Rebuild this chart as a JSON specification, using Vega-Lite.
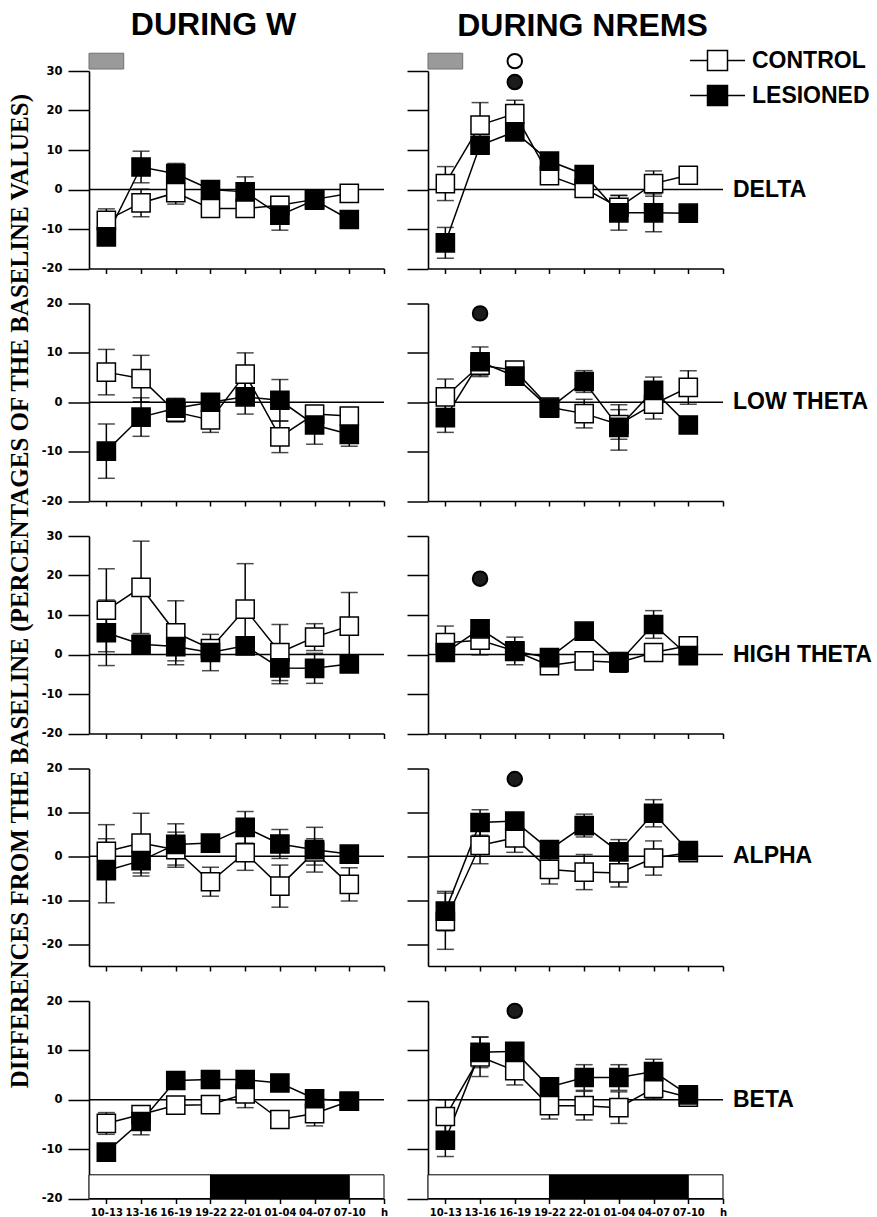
{
  "$schema": "https://vega.github.io/schema/vega-lite/v6.json",
  "background": "white",
  "padding": {"left": 8, "top": 8, "right": 5, "bottom": 0},
  "title": {"text": "DIFFERENCES FROM THE BASELINE (PERCENTAGES OF THE BASELINE VALUES)", "orient": "left", "anchor": "middle", "font": "Liberation Serif", "fontSize": 25, "fontWeight": "bold", "color": "black", "offset": 8, "dx": 22},
  "datasets": {
    "means": [
      {"band":"DELTA","state":"W","group":"CONTROL","t":0,"mean":-7.8,"sem":2.9},
      {"band":"DELTA","state":"W","group":"CONTROL","t":1,"mean":-3.4,"sem":3.5},
      {"band":"DELTA","state":"W","group":"CONTROL","t":2,"mean":-0.8,"sem":2.9},
      {"band":"DELTA","state":"W","group":"CONTROL","t":3,"mean":-4.8,"sem":1.5},
      {"band":"DELTA","state":"W","group":"CONTROL","t":4,"mean":-4.8,"sem":1.5},
      {"band":"DELTA","state":"W","group":"CONTROL","t":5,"mean":-4,"sem":1.5},
      {"band":"DELTA","state":"W","group":"CONTROL","t":6,"mean":-2.5,"sem":1.5},
      {"band":"DELTA","state":"W","group":"CONTROL","t":7,"mean":-1,"sem":1},
      {"band":"DELTA","state":"W","group":"LESIONED","t":0,"mean":-12,"sem":1.5},
      {"band":"DELTA","state":"W","group":"LESIONED","t":1,"mean":5.7,"sem":4},
      {"band":"DELTA","state":"W","group":"LESIONED","t":2,"mean":4,"sem":2.6},
      {"band":"DELTA","state":"W","group":"LESIONED","t":3,"mean":0,"sem":1},
      {"band":"DELTA","state":"W","group":"LESIONED","t":4,"mean":-0.6,"sem":3.8},
      {"band":"DELTA","state":"W","group":"LESIONED","t":5,"mean":-6.5,"sem":3.8},
      {"band":"DELTA","state":"W","group":"LESIONED","t":6,"mean":-2.7,"sem":1.5},
      {"band":"DELTA","state":"W","group":"LESIONED","t":7,"mean":-7.6,"sem":1},
      {"band":"DELTA","state":"NREMS","group":"CONTROL","t":0,"mean":1.5,"sem":4.3},
      {"band":"DELTA","state":"NREMS","group":"CONTROL","t":1,"mean":16.3,"sem":5.7},
      {"band":"DELTA","state":"NREMS","group":"CONTROL","t":2,"mean":19.2,"sem":3.4},
      {"band":"DELTA","state":"NREMS","group":"CONTROL","t":3,"mean":3.5,"sem":1.2},
      {"band":"DELTA","state":"NREMS","group":"CONTROL","t":4,"mean":0.3,"sem":2},
      {"band":"DELTA","state":"NREMS","group":"CONTROL","t":5,"mean":-4.5,"sem":3},
      {"band":"DELTA","state":"NREMS","group":"CONTROL","t":6,"mean":1.5,"sem":3.2},
      {"band":"DELTA","state":"NREMS","group":"CONTROL","t":7,"mean":3.6,"sem":1.5},
      {"band":"DELTA","state":"NREMS","group":"LESIONED","t":0,"mean":-13.5,"sem":3.9},
      {"band":"DELTA","state":"NREMS","group":"LESIONED","t":1,"mean":11.2,"sem":2},
      {"band":"DELTA","state":"NREMS","group":"LESIONED","t":2,"mean":14.6,"sem":2},
      {"band":"DELTA","state":"NREMS","group":"LESIONED","t":3,"mean":7.2,"sem":1.5},
      {"band":"DELTA","state":"NREMS","group":"LESIONED","t":4,"mean":3.8,"sem":1},
      {"band":"DELTA","state":"NREMS","group":"LESIONED","t":5,"mean":-5.9,"sem":4.4},
      {"band":"DELTA","state":"NREMS","group":"LESIONED","t":6,"mean":-5.9,"sem":4.8},
      {"band":"DELTA","state":"NREMS","group":"LESIONED","t":7,"mean":-6,"sem":1},
      {"band":"LOW THETA","state":"W","group":"CONTROL","t":0,"mean":6.1,"sem":4.6},
      {"band":"LOW THETA","state":"W","group":"CONTROL","t":1,"mean":4.8,"sem":4.7},
      {"band":"LOW THETA","state":"W","group":"CONTROL","t":2,"mean":-2,"sem":2},
      {"band":"LOW THETA","state":"W","group":"CONTROL","t":3,"mean":-3.6,"sem":2.5},
      {"band":"LOW THETA","state":"W","group":"CONTROL","t":4,"mean":5.7,"sem":4.3},
      {"band":"LOW THETA","state":"W","group":"CONTROL","t":5,"mean":-7,"sem":3.2},
      {"band":"LOW THETA","state":"W","group":"CONTROL","t":6,"mean":-2.4,"sem":1},
      {"band":"LOW THETA","state":"W","group":"CONTROL","t":7,"mean":-2.8,"sem":1},
      {"band":"LOW THETA","state":"W","group":"LESIONED","t":0,"mean":-9.9,"sem":5.5},
      {"band":"LOW THETA","state":"W","group":"LESIONED","t":1,"mean":-3,"sem":3.9},
      {"band":"LOW THETA","state":"W","group":"LESIONED","t":2,"mean":-1.2,"sem":2},
      {"band":"LOW THETA","state":"W","group":"LESIONED","t":3,"mean":0,"sem":1},
      {"band":"LOW THETA","state":"W","group":"LESIONED","t":4,"mean":1.1,"sem":3.5},
      {"band":"LOW THETA","state":"W","group":"LESIONED","t":5,"mean":0.4,"sem":4.2},
      {"band":"LOW THETA","state":"W","group":"LESIONED","t":6,"mean":-4.6,"sem":3.9},
      {"band":"LOW THETA","state":"W","group":"LESIONED","t":7,"mean":-6.5,"sem":2.4},
      {"band":"LOW THETA","state":"NREMS","group":"CONTROL","t":0,"mean":1.1,"sem":3.6},
      {"band":"LOW THETA","state":"NREMS","group":"CONTROL","t":1,"mean":7.5,"sem":2},
      {"band":"LOW THETA","state":"NREMS","group":"CONTROL","t":2,"mean":6.5,"sem":1},
      {"band":"LOW THETA","state":"NREMS","group":"CONTROL","t":3,"mean":-1,"sem":1},
      {"band":"LOW THETA","state":"NREMS","group":"CONTROL","t":4,"mean":-2.3,"sem":2.9},
      {"band":"LOW THETA","state":"NREMS","group":"CONTROL","t":5,"mean":-4.5,"sem":3},
      {"band":"LOW THETA","state":"NREMS","group":"CONTROL","t":6,"mean":-0.4,"sem":3},
      {"band":"LOW THETA","state":"NREMS","group":"CONTROL","t":7,"mean":3,"sem":3.4},
      {"band":"LOW THETA","state":"NREMS","group":"LESIONED","t":0,"mean":-3.1,"sem":3},
      {"band":"LOW THETA","state":"NREMS","group":"LESIONED","t":1,"mean":8.2,"sem":3},
      {"band":"LOW THETA","state":"NREMS","group":"LESIONED","t":2,"mean":5.3,"sem":1},
      {"band":"LOW THETA","state":"NREMS","group":"LESIONED","t":3,"mean":-1.2,"sem":1},
      {"band":"LOW THETA","state":"NREMS","group":"LESIONED","t":4,"mean":4.2,"sem":2.2},
      {"band":"LOW THETA","state":"NREMS","group":"LESIONED","t":5,"mean":-5.1,"sem":4.6},
      {"band":"LOW THETA","state":"NREMS","group":"LESIONED","t":6,"mean":2.4,"sem":2.7},
      {"band":"LOW THETA","state":"NREMS","group":"LESIONED","t":7,"mean":-4.6,"sem":1},
      {"band":"HIGH THETA","state":"W","group":"CONTROL","t":0,"mean":11.2,"sem":10.5},
      {"band":"HIGH THETA","state":"W","group":"CONTROL","t":1,"mean":17,"sem":11.7},
      {"band":"HIGH THETA","state":"W","group":"CONTROL","t":2,"mean":5.5,"sem":8.1},
      {"band":"HIGH THETA","state":"W","group":"CONTROL","t":3,"mean":1.5,"sem":2},
      {"band":"HIGH THETA","state":"W","group":"CONTROL","t":4,"mean":11.5,"sem":11.5},
      {"band":"HIGH THETA","state":"W","group":"CONTROL","t":5,"mean":0.5,"sem":7.1},
      {"band":"HIGH THETA","state":"W","group":"CONTROL","t":6,"mean":4.4,"sem":3.4},
      {"band":"HIGH THETA","state":"W","group":"CONTROL","t":7,"mean":7.2,"sem":8.5},
      {"band":"HIGH THETA","state":"W","group":"LESIONED","t":0,"mean":5.5,"sem":8.3},
      {"band":"HIGH THETA","state":"W","group":"LESIONED","t":1,"mean":2.6,"sem":2},
      {"band":"HIGH THETA","state":"W","group":"LESIONED","t":2,"mean":2,"sem":3.6},
      {"band":"HIGH THETA","state":"W","group":"LESIONED","t":3,"mean":0.5,"sem":4.6},
      {"band":"HIGH THETA","state":"W","group":"LESIONED","t":4,"mean":2.2,"sem":1.5},
      {"band":"HIGH THETA","state":"W","group":"LESIONED","t":5,"mean":-3.4,"sem":4},
      {"band":"HIGH THETA","state":"W","group":"LESIONED","t":6,"mean":-3.5,"sem":3.8},
      {"band":"HIGH THETA","state":"W","group":"LESIONED","t":7,"mean":-2.4,"sem":1},
      {"band":"HIGH THETA","state":"NREMS","group":"CONTROL","t":0,"mean":3,"sem":4.2},
      {"band":"HIGH THETA","state":"NREMS","group":"CONTROL","t":1,"mean":3.6,"sem":3.7},
      {"band":"HIGH THETA","state":"NREMS","group":"CONTROL","t":2,"mean":0.9,"sem":3.5},
      {"band":"HIGH THETA","state":"NREMS","group":"CONTROL","t":3,"mean":-2.8,"sem":1},
      {"band":"HIGH THETA","state":"NREMS","group":"CONTROL","t":4,"mean":-1.6,"sem":1},
      {"band":"HIGH THETA","state":"NREMS","group":"CONTROL","t":5,"mean":-2,"sem":2.5},
      {"band":"HIGH THETA","state":"NREMS","group":"CONTROL","t":6,"mean":0.5,"sem":1.5},
      {"band":"HIGH THETA","state":"NREMS","group":"CONTROL","t":7,"mean":2.2,"sem":1},
      {"band":"HIGH THETA","state":"NREMS","group":"LESIONED","t":0,"mean":0.5,"sem":1},
      {"band":"HIGH THETA","state":"NREMS","group":"LESIONED","t":1,"mean":6.5,"sem":1.5},
      {"band":"HIGH THETA","state":"NREMS","group":"LESIONED","t":2,"mean":0.8,"sem":2},
      {"band":"HIGH THETA","state":"NREMS","group":"LESIONED","t":3,"mean":-0.8,"sem":1},
      {"band":"HIGH THETA","state":"NREMS","group":"LESIONED","t":4,"mean":5.9,"sem":1},
      {"band":"HIGH THETA","state":"NREMS","group":"LESIONED","t":5,"mean":-2,"sem":2.5},
      {"band":"HIGH THETA","state":"NREMS","group":"LESIONED","t":6,"mean":7.6,"sem":3.5},
      {"band":"HIGH THETA","state":"NREMS","group":"LESIONED","t":7,"mean":-0.3,"sem":1},
      {"band":"ALPHA","state":"W","group":"CONTROL","t":0,"mean":1.1,"sem":6.1},
      {"band":"ALPHA","state":"W","group":"CONTROL","t":1,"mean":3,"sem":6.8},
      {"band":"ALPHA","state":"W","group":"CONTROL","t":2,"mean":1.5,"sem":4},
      {"band":"ALPHA","state":"W","group":"CONTROL","t":3,"mean":-5.8,"sem":3.3},
      {"band":"ALPHA","state":"W","group":"CONTROL","t":4,"mean":0.8,"sem":4},
      {"band":"ALPHA","state":"W","group":"CONTROL","t":5,"mean":-6.8,"sem":4.8},
      {"band":"ALPHA","state":"W","group":"CONTROL","t":6,"mean":1,"sem":3},
      {"band":"ALPHA","state":"W","group":"CONTROL","t":7,"mean":-6.4,"sem":3.8},
      {"band":"ALPHA","state":"W","group":"LESIONED","t":0,"mean":-3.3,"sem":7.3},
      {"band":"ALPHA","state":"W","group":"LESIONED","t":1,"mean":-1,"sem":3.5},
      {"band":"ALPHA","state":"W","group":"LESIONED","t":2,"mean":2.7,"sem":4.7},
      {"band":"ALPHA","state":"W","group":"LESIONED","t":3,"mean":3,"sem":1},
      {"band":"ALPHA","state":"W","group":"LESIONED","t":4,"mean":6.6,"sem":3.6},
      {"band":"ALPHA","state":"W","group":"LESIONED","t":5,"mean":2.8,"sem":3.3},
      {"band":"ALPHA","state":"W","group":"LESIONED","t":6,"mean":1.5,"sem":5.1},
      {"band":"ALPHA","state":"W","group":"LESIONED","t":7,"mean":0.5,"sem":1},
      {"band":"ALPHA","state":"NREMS","group":"CONTROL","t":0,"mean":-14.8,"sem":6.4},
      {"band":"ALPHA","state":"NREMS","group":"CONTROL","t":1,"mean":2.5,"sem":4.2},
      {"band":"ALPHA","state":"NREMS","group":"CONTROL","t":2,"mean":4.2,"sem":3.3},
      {"band":"ALPHA","state":"NREMS","group":"CONTROL","t":3,"mean":-3,"sem":3.3},
      {"band":"ALPHA","state":"NREMS","group":"CONTROL","t":4,"mean":-3.6,"sem":4},
      {"band":"ALPHA","state":"NREMS","group":"CONTROL","t":5,"mean":-3.8,"sem":3.2},
      {"band":"ALPHA","state":"NREMS","group":"CONTROL","t":6,"mean":-0.4,"sem":3.9},
      {"band":"ALPHA","state":"NREMS","group":"CONTROL","t":7,"mean":0.8,"sem":1},
      {"band":"ALPHA","state":"NREMS","group":"LESIONED","t":0,"mean":-12.5,"sem":4.5},
      {"band":"ALPHA","state":"NREMS","group":"LESIONED","t":1,"mean":7.7,"sem":2.9},
      {"band":"ALPHA","state":"NREMS","group":"LESIONED","t":2,"mean":8,"sem":1.5},
      {"band":"ALPHA","state":"NREMS","group":"LESIONED","t":3,"mean":1.5,"sem":1},
      {"band":"ALPHA","state":"NREMS","group":"LESIONED","t":4,"mean":7,"sem":2.6},
      {"band":"ALPHA","state":"NREMS","group":"LESIONED","t":5,"mean":1,"sem":2.8},
      {"band":"ALPHA","state":"NREMS","group":"LESIONED","t":6,"mean":9.8,"sem":3.1},
      {"band":"ALPHA","state":"NREMS","group":"LESIONED","t":7,"mean":1.3,"sem":1},
      {"band":"BETA","state":"W","group":"CONTROL","t":0,"mean":-4.8,"sem":2.2},
      {"band":"BETA","state":"W","group":"CONTROL","t":1,"mean":-3,"sem":1.5},
      {"band":"BETA","state":"W","group":"CONTROL","t":2,"mean":-1.1,"sem":1},
      {"band":"BETA","state":"W","group":"CONTROL","t":3,"mean":-1,"sem":1},
      {"band":"BETA","state":"W","group":"CONTROL","t":4,"mean":1.2,"sem":2.8},
      {"band":"BETA","state":"W","group":"CONTROL","t":5,"mean":-4,"sem":1},
      {"band":"BETA","state":"W","group":"CONTROL","t":6,"mean":-2.8,"sem":2.5},
      {"band":"BETA","state":"W","group":"CONTROL","t":7,"mean":-0.3,"sem":1},
      {"band":"BETA","state":"W","group":"LESIONED","t":0,"mean":-10.6,"sem":1},
      {"band":"BETA","state":"W","group":"LESIONED","t":1,"mean":-4.4,"sem":2.7},
      {"band":"BETA","state":"W","group":"LESIONED","t":2,"mean":3.9,"sem":1},
      {"band":"BETA","state":"W","group":"LESIONED","t":3,"mean":4.1,"sem":1},
      {"band":"BETA","state":"W","group":"LESIONED","t":4,"mean":4.1,"sem":1},
      {"band":"BETA","state":"W","group":"LESIONED","t":5,"mean":3.4,"sem":1},
      {"band":"BETA","state":"W","group":"LESIONED","t":6,"mean":0.2,"sem":1},
      {"band":"BETA","state":"W","group":"LESIONED","t":7,"mean":-0.3,"sem":1},
      {"band":"BETA","state":"NREMS","group":"CONTROL","t":0,"mean":-3.4,"sem":3.4},
      {"band":"BETA","state":"NREMS","group":"CONTROL","t":1,"mean":8.7,"sem":4},
      {"band":"BETA","state":"NREMS","group":"CONTROL","t":2,"mean":5.9,"sem":2.9},
      {"band":"BETA","state":"NREMS","group":"CONTROL","t":3,"mean":-1.2,"sem":2.7},
      {"band":"BETA","state":"NREMS","group":"CONTROL","t":4,"mean":-1.2,"sem":2.9},
      {"band":"BETA","state":"NREMS","group":"CONTROL","t":5,"mean":-1.6,"sem":3.2},
      {"band":"BETA","state":"NREMS","group":"CONTROL","t":6,"mean":2.3,"sem":2.1},
      {"band":"BETA","state":"NREMS","group":"CONTROL","t":7,"mean":0.5,"sem":1},
      {"band":"BETA","state":"NREMS","group":"LESIONED","t":0,"mean":-8.2,"sem":3.3},
      {"band":"BETA","state":"NREMS","group":"LESIONED","t":1,"mean":9.6,"sem":3.1},
      {"band":"BETA","state":"NREMS","group":"LESIONED","t":2,"mean":9.8,"sem":1.5},
      {"band":"BETA","state":"NREMS","group":"LESIONED","t":3,"mean":2.6,"sem":1},
      {"band":"BETA","state":"NREMS","group":"LESIONED","t":4,"mean":4.5,"sem":2.6},
      {"band":"BETA","state":"NREMS","group":"LESIONED","t":5,"mean":4.5,"sem":2.6},
      {"band":"BETA","state":"NREMS","group":"LESIONED","t":6,"mean":5.7,"sem":2.5},
      {"band":"BETA","state":"NREMS","group":"LESIONED","t":7,"mean":1,"sem":1}
    ],
    "sig": [
      {"band":"DELTA","t":2,"group":"CONTROL","y":32.5},
      {"band":"DELTA","t":2,"group":"LESIONED","y":27.2},
      {"band":"LOW THETA","t":1,"group":"LESIONED","y":18},
      {"band":"HIGH THETA","t":1,"group":"LESIONED","y":19.2},
      {"band":"ALPHA","t":2,"group":"LESIONED","y":17.6},
      {"band":"BETA","t":2,"group":"LESIONED","y":18}
    ],
    "phases": [
      {"phase":"light","from":-0.5,"to":3},
      {"phase":"dark","from":3,"to":7},
      {"phase":"light","from":7,"to":8}
    ]
  },
  "columns": 2,
  "spacing": {"row": 34.5, "column": 44},
  "bounds": "flush",
  "resolve": {"scale": {"fill": "independent"}, "legend": {"fill": "independent"}},
  "concat": [
    {
      "width": 295, "height": 197.5,
      "title": {"text": "DURING W", "font": "Liberation Sans", "fontSize": 32, "fontWeight": "bold", "color": "black", "frame": "group", "anchor": "middle", "dx": -23, "offset": 11},
      "layer": [
        {"data": {"values": [{}]}, "mark": {"type": "rule", "color": "black", "strokeWidth": 1.5},
         "encoding": {
           "x": {"datum": -0.5, "type": "quantitative", "scale": {"domain": [-0.5, 8], "nice": false, "zero": false}, "axis": {"values": [0,1,2,3,4,5,6,7,8], "tickCount": 20, "labels": false, "title": null, "labelOverlap": false}},
           "x2": {"datum": 8},
           "y": {"datum": 0, "type": "quantitative", "scale": {"domain": [-20, 30], "nice": false, "zero": false}, "axis": {"values": [-20,-10,0,10,20,30], "tickCount": 20, "title": null, "labelOverlap": false, "labelExpr": "'' + datum.value"}}}},
        {"data": {"values": [{}]}, "mark": {"type": "rect", "fill": "#9a9a9a", "stroke": "#707070", "strokeWidth": 1},
         "encoding": {"x": {"datum": -0.5, "type": "quantitative"}, "x2": {"datum": 0.5}, "y": {"datum": 30.5, "type": "quantitative"}, "y2": {"datum": 34.5}}},
        {"data": {"name": "means"}, "transform": [{"filter": "datum.band === 'DELTA' && datum.state === 'W'"}],
         "encoding": {"x": {"field": "t", "type": "quantitative"}, "y": {"field": "mean", "type": "quantitative"}},
         "layer": [
           {"mark": {"type": "errorbar", "color": "black", "ticks": {"size": 17, "thickness": 1.5, "color": "black"}, "rule": {"strokeWidth": 1.5, "color": "black"}}, "encoding": {"yError": {"field": "sem"}}},
           {"mark": {"type": "line", "color": "black", "strokeWidth": 1.5}, "encoding": {"detail": {"field": "group"}}},
           {"mark": {"type": "point", "shape": "square", "filled": true, "size": 330, "stroke": "black", "strokeWidth": 1.5, "opacity": 1}, "encoding": {"fill": {"field": "group", "type": "nominal", "scale": {"domain": ["CONTROL", "LESIONED"], "range": ["white", "black"]}, "legend": null}}}
         ]}
      ]
    },
    {
      "width": 295, "height": 197.5,
      "title": {"text": "DURING NREMS", "font": "Liberation Sans", "fontSize": 32, "fontWeight": "bold", "color": "black", "frame": "group", "anchor": "middle", "dx": 7, "offset": 6},
      "layer": [
        {"data": {"values": [{}]}, "mark": {"type": "rule", "color": "black", "strokeWidth": 1.5},
         "encoding": {
           "x": {"datum": -0.5, "type": "quantitative", "scale": {"domain": [-0.5, 8], "nice": false, "zero": false}, "axis": {"values": [0,1,2,3,4,5,6,7,8], "tickCount": 20, "labels": false, "title": null, "labelOverlap": false}},
           "x2": {"datum": 8},
           "y": {"datum": 0, "type": "quantitative", "scale": {"domain": [-20, 30], "nice": false, "zero": false}, "axis": {"values": [-20,-10,0,10,20,30], "tickCount": 20, "labels": false, "title": null, "labelOverlap": false}}}},
        {"data": {"values": [{}]}, "mark": {"type": "rect", "fill": "#9a9a9a", "stroke": "#707070", "strokeWidth": 1},
         "encoding": {"x": {"datum": -0.5, "type": "quantitative"}, "x2": {"datum": 0.5}, "y": {"datum": 30.5, "type": "quantitative"}, "y2": {"datum": 34.5}}},
        {"data": {"values": [{}]}, "mark": {"type": "text", "text": "DELTA", "align": "left", "baseline": "middle", "dx": 10, "font": "Liberation Sans", "fontWeight": "bold", "fontSize": 23, "color": "black"},
         "encoding": {"x": {"datum": 8, "type": "quantitative"}, "y": {"datum": 0, "type": "quantitative"}}},
        {"data": {"name": "sig"}, "transform": [{"filter": "datum.band === 'DELTA'"}],
         "mark": {"type": "point", "shape": "circle", "filled": true, "size": 210, "stroke": "black", "strokeWidth": 2, "opacity": 1},
         "encoding": {"x": {"field": "t", "type": "quantitative"}, "y": {"field": "y", "type": "quantitative"}, "fill": {"condition": {"test": "datum.group === 'CONTROL'", "value": "white"}, "value": "#1c1c1c"}}},
        {"data": {"name": "means"}, "transform": [{"filter": "datum.band === 'DELTA' && datum.state === 'NREMS'"}],
         "encoding": {"x": {"field": "t", "type": "quantitative"}, "y": {"field": "mean", "type": "quantitative"}},
         "layer": [
           {"mark": {"type": "errorbar", "color": "black", "ticks": {"size": 17, "thickness": 1.5, "color": "black"}, "rule": {"strokeWidth": 1.5, "color": "black"}}, "encoding": {"yError": {"field": "sem"}}},
           {"mark": {"type": "line", "color": "black", "strokeWidth": 1.5}, "encoding": {"detail": {"field": "group"}}},
           {"mark": {"type": "point", "shape": "square", "filled": true, "size": 330, "stroke": "black", "strokeWidth": 1.5, "opacity": 1}, "encoding": {"fill": {"field": "group", "type": "nominal", "scale": {"domain": ["CONTROL", "LESIONED"], "range": ["white", "black"]},
             "legend": {"title": null, "orient": "none", "legendX": 278, "legendY": -22, "symbolType": "M-2.75,0H-1M1,0H2.75M-1,-1H1V1H-1Z", "symbolSize": 400, "symbolStrokeColor": "black", "symbolStrokeWidth": 1.5, "labelFont": "Liberation Sans", "labelFontWeight": "bold", "labelFontSize": 23, "labelColor": "black", "labelOffset": 23, "rowPadding": 8, "padding": 0, "labelLimit": 300}}}}
         ]}
      ]
    },
    {
      "width": 295, "height": 197.5,
      "layer": [
        {"data": {"values": [{}]}, "mark": {"type": "rule", "color": "black", "strokeWidth": 1.5},
         "encoding": {
           "x": {"datum": -0.5, "type": "quantitative", "scale": {"domain": [-0.5, 8], "nice": false, "zero": false}, "axis": {"values": [0,1,2,3,4,5,6,7,8], "tickCount": 20, "labels": false, "title": null, "labelOverlap": false}},
           "x2": {"datum": 8},
           "y": {"datum": 0, "type": "quantitative", "scale": {"domain": [-20, 20], "nice": false, "zero": false}, "axis": {"values": [-20,-10,0,10,20], "tickCount": 20, "title": null, "labelOverlap": false, "labelExpr": "'' + datum.value"}}}},
        {"data": {"name": "means"}, "transform": [{"filter": "datum.band === 'LOW THETA' && datum.state === 'W'"}],
         "encoding": {"x": {"field": "t", "type": "quantitative"}, "y": {"field": "mean", "type": "quantitative"}},
         "layer": [
           {"mark": {"type": "errorbar", "color": "black", "ticks": {"size": 17, "thickness": 1.5, "color": "black"}, "rule": {"strokeWidth": 1.5, "color": "black"}}, "encoding": {"yError": {"field": "sem"}}},
           {"mark": {"type": "line", "color": "black", "strokeWidth": 1.5}, "encoding": {"detail": {"field": "group"}}},
           {"mark": {"type": "point", "shape": "square", "filled": true, "size": 330, "stroke": "black", "strokeWidth": 1.5, "opacity": 1}, "encoding": {"fill": {"field": "group", "type": "nominal", "scale": {"domain": ["CONTROL", "LESIONED"], "range": ["white", "black"]}, "legend": null}}}
         ]}
      ]
    },
    {
      "width": 295, "height": 197.5,
      "layer": [
        {"data": {"values": [{}]}, "mark": {"type": "rule", "color": "black", "strokeWidth": 1.5},
         "encoding": {
           "x": {"datum": -0.5, "type": "quantitative", "scale": {"domain": [-0.5, 8], "nice": false, "zero": false}, "axis": {"values": [0,1,2,3,4,5,6,7,8], "tickCount": 20, "labels": false, "title": null, "labelOverlap": false}},
           "x2": {"datum": 8},
           "y": {"datum": 0, "type": "quantitative", "scale": {"domain": [-20, 20], "nice": false, "zero": false}, "axis": {"values": [-20,-10,0,10,20], "tickCount": 20, "labels": false, "title": null, "labelOverlap": false}}}},
        {"data": {"values": [{}]}, "mark": {"type": "text", "text": "LOW THETA", "align": "left", "baseline": "middle", "dx": 10, "font": "Liberation Sans", "fontWeight": "bold", "fontSize": 23, "color": "black"},
         "encoding": {"x": {"datum": 8, "type": "quantitative"}, "y": {"datum": 0, "type": "quantitative"}}},
        {"data": {"name": "sig"}, "transform": [{"filter": "datum.band === 'LOW THETA'"}],
         "mark": {"type": "point", "shape": "circle", "filled": true, "size": 210, "stroke": "black", "strokeWidth": 2, "opacity": 1},
         "encoding": {"x": {"field": "t", "type": "quantitative"}, "y": {"field": "y", "type": "quantitative"}, "fill": {"condition": {"test": "datum.group === 'CONTROL'", "value": "white"}, "value": "#1c1c1c"}}},
        {"data": {"name": "means"}, "transform": [{"filter": "datum.band === 'LOW THETA' && datum.state === 'NREMS'"}],
         "encoding": {"x": {"field": "t", "type": "quantitative"}, "y": {"field": "mean", "type": "quantitative"}},
         "layer": [
           {"mark": {"type": "errorbar", "color": "black", "ticks": {"size": 17, "thickness": 1.5, "color": "black"}, "rule": {"strokeWidth": 1.5, "color": "black"}}, "encoding": {"yError": {"field": "sem"}}},
           {"mark": {"type": "line", "color": "black", "strokeWidth": 1.5}, "encoding": {"detail": {"field": "group"}}},
           {"mark": {"type": "point", "shape": "square", "filled": true, "size": 330, "stroke": "black", "strokeWidth": 1.5, "opacity": 1}, "encoding": {"fill": {"field": "group", "type": "nominal", "scale": {"domain": ["CONTROL", "LESIONED"], "range": ["white", "black"]}, "legend": null}}}
         ]}
      ]
    },
    {
      "width": 295, "height": 197.5,
      "layer": [
        {"data": {"values": [{}]}, "mark": {"type": "rule", "color": "black", "strokeWidth": 1.5},
         "encoding": {
           "x": {"datum": -0.5, "type": "quantitative", "scale": {"domain": [-0.5, 8], "nice": false, "zero": false}, "axis": {"values": [0,1,2,3,4,5,6,7,8], "tickCount": 20, "labels": false, "title": null, "labelOverlap": false}},
           "x2": {"datum": 8},
           "y": {"datum": 0, "type": "quantitative", "scale": {"domain": [-20, 30], "nice": false, "zero": false}, "axis": {"values": [-20,-10,0,10,20,30], "tickCount": 20, "title": null, "labelOverlap": false, "labelExpr": "'' + datum.value"}}}},
        {"data": {"name": "means"}, "transform": [{"filter": "datum.band === 'HIGH THETA' && datum.state === 'W'"}],
         "encoding": {"x": {"field": "t", "type": "quantitative"}, "y": {"field": "mean", "type": "quantitative"}},
         "layer": [
           {"mark": {"type": "errorbar", "color": "black", "ticks": {"size": 17, "thickness": 1.5, "color": "black"}, "rule": {"strokeWidth": 1.5, "color": "black"}}, "encoding": {"yError": {"field": "sem"}}},
           {"mark": {"type": "line", "color": "black", "strokeWidth": 1.5}, "encoding": {"detail": {"field": "group"}}},
           {"mark": {"type": "point", "shape": "square", "filled": true, "size": 330, "stroke": "black", "strokeWidth": 1.5, "opacity": 1}, "encoding": {"fill": {"field": "group", "type": "nominal", "scale": {"domain": ["CONTROL", "LESIONED"], "range": ["white", "black"]}, "legend": null}}}
         ]}
      ]
    },
    {
      "width": 295, "height": 197.5,
      "layer": [
        {"data": {"values": [{}]}, "mark": {"type": "rule", "color": "black", "strokeWidth": 1.5},
         "encoding": {
           "x": {"datum": -0.5, "type": "quantitative", "scale": {"domain": [-0.5, 8], "nice": false, "zero": false}, "axis": {"values": [0,1,2,3,4,5,6,7,8], "tickCount": 20, "labels": false, "title": null, "labelOverlap": false}},
           "x2": {"datum": 8},
           "y": {"datum": 0, "type": "quantitative", "scale": {"domain": [-20, 30], "nice": false, "zero": false}, "axis": {"values": [-20,-10,0,10,20,30], "tickCount": 20, "labels": false, "title": null, "labelOverlap": false}}}},
        {"data": {"values": [{}]}, "mark": {"type": "text", "text": "HIGH THETA", "align": "left", "baseline": "middle", "dx": 10, "font": "Liberation Sans", "fontWeight": "bold", "fontSize": 23, "color": "black"},
         "encoding": {"x": {"datum": 8, "type": "quantitative"}, "y": {"datum": 0, "type": "quantitative"}}},
        {"data": {"name": "sig"}, "transform": [{"filter": "datum.band === 'HIGH THETA'"}],
         "mark": {"type": "point", "shape": "circle", "filled": true, "size": 210, "stroke": "black", "strokeWidth": 2, "opacity": 1},
         "encoding": {"x": {"field": "t", "type": "quantitative"}, "y": {"field": "y", "type": "quantitative"}, "fill": {"condition": {"test": "datum.group === 'CONTROL'", "value": "white"}, "value": "#1c1c1c"}}},
        {"data": {"name": "means"}, "transform": [{"filter": "datum.band === 'HIGH THETA' && datum.state === 'NREMS'"}],
         "encoding": {"x": {"field": "t", "type": "quantitative"}, "y": {"field": "mean", "type": "quantitative"}},
         "layer": [
           {"mark": {"type": "errorbar", "color": "black", "ticks": {"size": 17, "thickness": 1.5, "color": "black"}, "rule": {"strokeWidth": 1.5, "color": "black"}}, "encoding": {"yError": {"field": "sem"}}},
           {"mark": {"type": "line", "color": "black", "strokeWidth": 1.5}, "encoding": {"detail": {"field": "group"}}},
           {"mark": {"type": "point", "shape": "square", "filled": true, "size": 330, "stroke": "black", "strokeWidth": 1.5, "opacity": 1}, "encoding": {"fill": {"field": "group", "type": "nominal", "scale": {"domain": ["CONTROL", "LESIONED"], "range": ["white", "black"]}, "legend": null}}}
         ]}
      ]
    },
    {
      "width": 295, "height": 197.5,
      "layer": [
        {"data": {"values": [{}]}, "mark": {"type": "rule", "color": "black", "strokeWidth": 1.5},
         "encoding": {
           "x": {"datum": -0.5, "type": "quantitative", "scale": {"domain": [-0.5, 8], "nice": false, "zero": false}, "axis": {"values": [0,1,2,3,4,5,6,7,8], "tickCount": 20, "labels": false, "title": null, "labelOverlap": false}},
           "x2": {"datum": 8},
           "y": {"datum": 0, "type": "quantitative", "scale": {"domain": [-25, 20], "nice": false, "zero": false}, "axis": {"values": [-20,-10,0,10,20], "tickCount": 20, "title": null, "labelOverlap": false, "labelExpr": "'' + datum.value"}}}},
        {"data": {"name": "means"}, "transform": [{"filter": "datum.band === 'ALPHA' && datum.state === 'W'"}],
         "encoding": {"x": {"field": "t", "type": "quantitative"}, "y": {"field": "mean", "type": "quantitative"}},
         "layer": [
           {"mark": {"type": "errorbar", "color": "black", "ticks": {"size": 17, "thickness": 1.5, "color": "black"}, "rule": {"strokeWidth": 1.5, "color": "black"}}, "encoding": {"yError": {"field": "sem"}}},
           {"mark": {"type": "line", "color": "black", "strokeWidth": 1.5}, "encoding": {"detail": {"field": "group"}}},
           {"mark": {"type": "point", "shape": "square", "filled": true, "size": 330, "stroke": "black", "strokeWidth": 1.5, "opacity": 1}, "encoding": {"fill": {"field": "group", "type": "nominal", "scale": {"domain": ["CONTROL", "LESIONED"], "range": ["white", "black"]}, "legend": null}}}
         ]}
      ]
    },
    {
      "width": 295, "height": 197.5,
      "layer": [
        {"data": {"values": [{}]}, "mark": {"type": "rule", "color": "black", "strokeWidth": 1.5},
         "encoding": {
           "x": {"datum": -0.5, "type": "quantitative", "scale": {"domain": [-0.5, 8], "nice": false, "zero": false}, "axis": {"values": [0,1,2,3,4,5,6,7,8], "tickCount": 20, "labels": false, "title": null, "labelOverlap": false}},
           "x2": {"datum": 8},
           "y": {"datum": 0, "type": "quantitative", "scale": {"domain": [-25, 20], "nice": false, "zero": false}, "axis": {"values": [-20,-10,0,10,20], "tickCount": 20, "labels": false, "title": null, "labelOverlap": false}}}},
        {"data": {"values": [{}]}, "mark": {"type": "text", "text": "ALPHA", "align": "left", "baseline": "middle", "dx": 10, "font": "Liberation Sans", "fontWeight": "bold", "fontSize": 23, "color": "black"},
         "encoding": {"x": {"datum": 8, "type": "quantitative"}, "y": {"datum": 0, "type": "quantitative"}}},
        {"data": {"name": "sig"}, "transform": [{"filter": "datum.band === 'ALPHA'"}],
         "mark": {"type": "point", "shape": "circle", "filled": true, "size": 210, "stroke": "black", "strokeWidth": 2, "opacity": 1},
         "encoding": {"x": {"field": "t", "type": "quantitative"}, "y": {"field": "y", "type": "quantitative"}, "fill": {"condition": {"test": "datum.group === 'CONTROL'", "value": "white"}, "value": "#1c1c1c"}}},
        {"data": {"name": "means"}, "transform": [{"filter": "datum.band === 'ALPHA' && datum.state === 'NREMS'"}],
         "encoding": {"x": {"field": "t", "type": "quantitative"}, "y": {"field": "mean", "type": "quantitative"}},
         "layer": [
           {"mark": {"type": "errorbar", "color": "black", "ticks": {"size": 17, "thickness": 1.5, "color": "black"}, "rule": {"strokeWidth": 1.5, "color": "black"}}, "encoding": {"yError": {"field": "sem"}}},
           {"mark": {"type": "line", "color": "black", "strokeWidth": 1.5}, "encoding": {"detail": {"field": "group"}}},
           {"mark": {"type": "point", "shape": "square", "filled": true, "size": 330, "stroke": "black", "strokeWidth": 1.5, "opacity": 1}, "encoding": {"fill": {"field": "group", "type": "nominal", "scale": {"domain": ["CONTROL", "LESIONED"], "range": ["white", "black"]}, "legend": null}}}
         ]}
      ]
    },
    {
      "width": 295, "height": 197.5,
      "layer": [
        {"data": {"values": [{}]}, "mark": {"type": "rule", "color": "black", "strokeWidth": 1.5},
         "encoding": {
           "x": {"datum": -0.5, "type": "quantitative", "scale": {"domain": [-0.5, 8], "nice": false, "zero": false}, "axis": {"values": [0,1,2,3,4,5,6,7,8], "tickCount": 20, "title": null, "labelOverlap": false, "labelExpr": "['10-13','13-16','16-19','19-22','22-01','01-04','04-07','07-10','h'][datum.value]"}},
           "x2": {"datum": 8},
           "y": {"datum": 0, "type": "quantitative", "scale": {"domain": [-20, 20], "nice": false, "zero": false}, "axis": {"values": [-20,-10,0,10,20], "tickCount": 20, "title": null, "labelOverlap": false, "labelExpr": "'' + datum.value"}}}},
        {"data": {"name": "phases"}, "mark": {"type": "rect", "stroke": "black", "strokeWidth": 1},
         "encoding": {"x": {"field": "from", "type": "quantitative"}, "x2": {"field": "to"}, "y": {"datum": -20, "type": "quantitative"}, "y2": {"datum": -15.2}, "fill": {"condition": {"test": "datum.phase === 'dark'", "value": "black"}, "value": "white"}}},
        {"data": {"name": "means"}, "transform": [{"filter": "datum.band === 'BETA' && datum.state === 'W'"}],
         "encoding": {"x": {"field": "t", "type": "quantitative"}, "y": {"field": "mean", "type": "quantitative"}},
         "layer": [
           {"mark": {"type": "errorbar", "color": "black", "ticks": {"size": 17, "thickness": 1.5, "color": "black"}, "rule": {"strokeWidth": 1.5, "color": "black"}}, "encoding": {"yError": {"field": "sem"}}},
           {"mark": {"type": "line", "color": "black", "strokeWidth": 1.5}, "encoding": {"detail": {"field": "group"}}},
           {"mark": {"type": "point", "shape": "square", "filled": true, "size": 330, "stroke": "black", "strokeWidth": 1.5, "opacity": 1}, "encoding": {"fill": {"field": "group", "type": "nominal", "scale": {"domain": ["CONTROL", "LESIONED"], "range": ["white", "black"]}, "legend": null}}}
         ]}
      ]
    },
    {
      "width": 295, "height": 197.5,
      "layer": [
        {"data": {"values": [{}]}, "mark": {"type": "rule", "color": "black", "strokeWidth": 1.5},
         "encoding": {
           "x": {"datum": -0.5, "type": "quantitative", "scale": {"domain": [-0.5, 8], "nice": false, "zero": false}, "axis": {"values": [0,1,2,3,4,5,6,7,8], "tickCount": 20, "title": null, "labelOverlap": false, "labelExpr": "['10-13','13-16','16-19','19-22','22-01','01-04','04-07','07-10','h'][datum.value]"}},
           "x2": {"datum": 8},
           "y": {"datum": 0, "type": "quantitative", "scale": {"domain": [-20, 20], "nice": false, "zero": false}, "axis": {"values": [-20,-10,0,10,20], "tickCount": 20, "labels": false, "title": null, "labelOverlap": false}}}},
        {"data": {"name": "phases"}, "mark": {"type": "rect", "stroke": "black", "strokeWidth": 1},
         "encoding": {"x": {"field": "from", "type": "quantitative"}, "x2": {"field": "to"}, "y": {"datum": -20, "type": "quantitative"}, "y2": {"datum": -15.2}, "fill": {"condition": {"test": "datum.phase === 'dark'", "value": "black"}, "value": "white"}}},
        {"data": {"values": [{}]}, "mark": {"type": "text", "text": "BETA", "align": "left", "baseline": "middle", "dx": 10, "font": "Liberation Sans", "fontWeight": "bold", "fontSize": 23, "color": "black"},
         "encoding": {"x": {"datum": 8, "type": "quantitative"}, "y": {"datum": 0, "type": "quantitative"}}},
        {"data": {"name": "sig"}, "transform": [{"filter": "datum.band === 'BETA'"}],
         "mark": {"type": "point", "shape": "circle", "filled": true, "size": 210, "stroke": "black", "strokeWidth": 2, "opacity": 1},
         "encoding": {"x": {"field": "t", "type": "quantitative"}, "y": {"field": "y", "type": "quantitative"}, "fill": {"condition": {"test": "datum.group === 'CONTROL'", "value": "white"}, "value": "#1c1c1c"}}},
        {"data": {"name": "means"}, "transform": [{"filter": "datum.band === 'BETA' && datum.state === 'NREMS'"}],
         "encoding": {"x": {"field": "t", "type": "quantitative"}, "y": {"field": "mean", "type": "quantitative"}},
         "layer": [
           {"mark": {"type": "errorbar", "color": "black", "ticks": {"size": 17, "thickness": 1.5, "color": "black"}, "rule": {"strokeWidth": 1.5, "color": "black"}}, "encoding": {"yError": {"field": "sem"}}},
           {"mark": {"type": "line", "color": "black", "strokeWidth": 1.5}, "encoding": {"detail": {"field": "group"}}},
           {"mark": {"type": "point", "shape": "square", "filled": true, "size": 330, "stroke": "black", "strokeWidth": 1.5, "opacity": 1}, "encoding": {"fill": {"field": "group", "type": "nominal", "scale": {"domain": ["CONTROL", "LESIONED"], "range": ["white", "black"]}, "legend": null}}}
         ]}
      ]
    }
  ],
  "config": {
    "view": {"stroke": null},
    "axis": {"domainColor": "black", "domainWidth": 1.6, "tickColor": "black", "tickWidth": 1.5, "grid": false, "labelColor": "black", "labelFont": "DejaVu Sans", "labelFontWeight": "bold", "labelFlush": false, "labelOverlap": false, "labelBound": false, "tickCount": 20},
    "axisX": {"tickSize": 5, "labelFontSize": 10, "labelPadding": 4},
    "axisY": {"tickSize": 21, "labelFontSize": 11.5, "labelPadding": 6}
  }
}
